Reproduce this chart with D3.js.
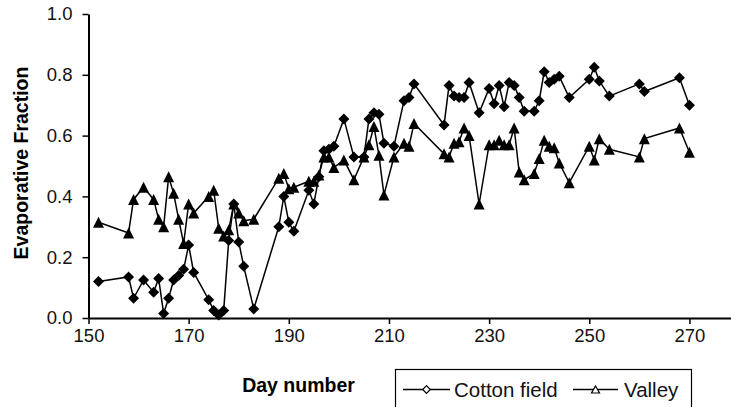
<!DOCTYPE html>
<html>
<head>
<meta charset="utf-8">
<script src="https://cdn.jsdelivr.net/npm/d3@7"></script>
<style>
  body { margin: 0; background: #fff; }
  svg { display: block; font-family: "Liberation Sans", Arial, sans-serif; }
</style>
</head>
<body>
<div id="chart"></div>
<script>
// Cotton field (diamonds)
const cottonDays = [152, 158, 159, 161, 163, 164, 165, 166, 167, 168, 169, 170, 171, 174, 175, 176, 177, 178, 179, 180,
    181, 183, 188, 189, 190, 191, 194, 195, 196, 197, 198, 199, 201, 203, 205, 206, 207, 208, 209, 211,
    213, 214, 215, 221, 222, 223, 224, 225, 226, 228, 230, 231, 232, 233, 234, 235, 236, 237, 239, 240,
    241, 242, 243, 244, 246, 250, 251, 252, 254, 260, 261, 268, 270];
const cottonValues = [0.12, 0.135, 0.065, 0.125, 0.085, 0.13, 0.015, 0.065, 0.125, 0.14, 0.16, 0.24, 0.15, 0.06, 0.025, 0.01, 0.025, 0.255, 0.375, 0.25,
    0.17, 0.03, 0.30, 0.40, 0.315, 0.285, 0.42, 0.375, 0.465, 0.55, 0.555, 0.565, 0.655, 0.53, 0.53, 0.655, 0.675, 0.67, 0.575, 0.565,
    0.715, 0.725, 0.77, 0.635, 0.765, 0.73, 0.725, 0.725, 0.775, 0.675, 0.755, 0.705, 0.765, 0.695, 0.775, 0.765, 0.725, 0.68, 0.68, 0.715,
    0.81, 0.775, 0.785, 0.795, 0.725, 0.785, 0.825, 0.78, 0.73, 0.77, 0.745, 0.79, 0.70];

// Valley (triangles)
const valleyDays = cottonDays;
const valleyValues = [0.315, 0.28, 0.39, 0.43, 0.39, 0.325, 0.30, 0.465, 0.41, 0.325, 0.245, 0.375, 0.345, 0.40, 0.42, 0.295, 0.27, 0.29, 0.375, 0.345,
    0.32, 0.325, 0.46, 0.475, 0.425, 0.43, 0.45, 0.45, 0.47, 0.53, 0.53, 0.495, 0.52, 0.455, 0.53, 0.57, 0.63, 0.535, 0.405, 0.53,
    0.575, 0.565, 0.64, 0.54, 0.53, 0.575, 0.58, 0.625, 0.60, 0.375, 0.57, 0.57, 0.585, 0.57, 0.57, 0.625, 0.48, 0.455, 0.475, 0.525,
    0.585, 0.565, 0.56, 0.51, 0.445, 0.565, 0.52, 0.59, 0.555, 0.53, 0.59, 0.625, 0.545];

const xTicks = [150, 170, 190, 210, 230, 250, 270];
const yTicks = [0, 0.2, 0.4, 0.6, 0.8, 1.0];

const width = 731, height = 407;

const svg = d3.select("#chart").append("svg")
    .attr("width", width)
    .attr("height", height);

const x = d3.scaleLinear().domain([150, 280]).range([88.5, 739.5]);
const y = d3.scaleLinear().domain([0, 1]).range([318, 14]);

// axes
const xAxis = svg.append("g")
    .attr("transform", `translate(0,${y(0)})`)
    .call(d3.axisBottom(x).tickValues(xTicks).tickSize(6).tickSizeOuter(0).tickPadding(5));
xAxis.select(".domain").attr("stroke-width", 2);
xAxis.selectAll(".tick line").attr("stroke-width", 1.5);
xAxis.selectAll(".tick text").attr("font-size", "18.5px").attr("fill", "#111");

const yAxis = svg.append("g")
    .attr("transform", `translate(${x(150)},0)`)
    .call(d3.axisLeft(y).tickValues(yTicks).tickFormat(d3.format(".1f")).tickSize(6).tickSizeOuter(0).tickPadding(10));
yAxis.select(".domain").attr("stroke-width", 2);
yAxis.selectAll(".tick line").attr("stroke-width", 1.5);
yAxis.selectAll(".tick text").attr("font-size", "18.5px").attr("fill", "#111");

// axis titles
svg.append("text")
    .attr("transform", "translate(28,163) rotate(-90)")
    .attr("text-anchor", "middle")
    .attr("font-weight", "bold")
    .attr("font-size", "19.5px")
    .text("Evaporative Fraction");

svg.append("text")
    .attr("x", 298.5)
    .attr("y", 391.5)
    .attr("text-anchor", "middle")
    .attr("font-weight", "bold")
    .attr("font-size", "19.5px")
    .text("Day number");

// marker shapes
const diamond = r => `M0,${-r}L${r},0L0,${r}L${-r},0Z`;
const triangle = (w, h) => `M0,${-h / 2}L${w / 2},${h / 2}L${-w / 2},${h / 2}Z`;

const cotton = cottonDays.map((d, i) => ({ day: d, value: cottonValues[i] }));
const valley = valleyDays.map((d, i) => ({ day: d, value: valleyValues[i] }));

const line = d3.line()
    .x(d => x(d.day))
    .y(d => y(d.value));

[valley, cotton].forEach(data => {
    svg.append("path")
        .datum(data)
        .attr("fill", "none")
        .attr("stroke", "#000")
        .attr("stroke-width", 1.5)
        .attr("d", line);
});

svg.selectAll(".tri")
    .data(valley)
    .join("path")
    .attr("class", "tri")
    .attr("transform", d => `translate(${x(d.day)},${y(d.value)})`)
    .attr("d", triangle(11, 11))
    .attr("fill", "#000");

svg.selectAll(".dia")
    .data(cotton)
    .join("path")
    .attr("class", "dia")
    .attr("transform", d => `translate(${x(d.day)},${y(d.value)})`)
    .attr("d", diamond(5.5))
    .attr("fill", "#000");

// legend
const legend = svg.append("g");
legend.append("rect")
    .attr("x", 395.5).attr("y", 369.5)
    .attr("width", 296).attr("height", 50)
    .attr("fill", "#fff").attr("stroke", "#000").attr("stroke-width", 1.2);

const legendItems = [
    { label: "Cotton field", x1: 403, x2: 450, text: 454, shape: diamond(3.8) },
    { label: "Valley", x1: 573, x2: 618, text: 624, shape: triangle(8, 7) }
];
legendItems.forEach(item => {
    legend.append("line")
        .attr("x1", item.x1).attr("x2", item.x2)
        .attr("y1", 389.5).attr("y2", 389.5)
        .attr("stroke", "#000").attr("stroke-width", 1.5);
    legend.append("path")
        .attr("transform", `translate(${(item.x1 + item.x2) / 2},389.5)`)
        .attr("d", item.shape)
        .attr("fill", "#fff").attr("stroke", "#000").attr("stroke-width", 1.2);
    legend.append("text")
        .attr("x", item.text).attr("y", 397)
        .attr("font-size", "20.5px")
        .attr("fill", "#111")
        .text(item.label);
});
</script>
</body>
</html>
